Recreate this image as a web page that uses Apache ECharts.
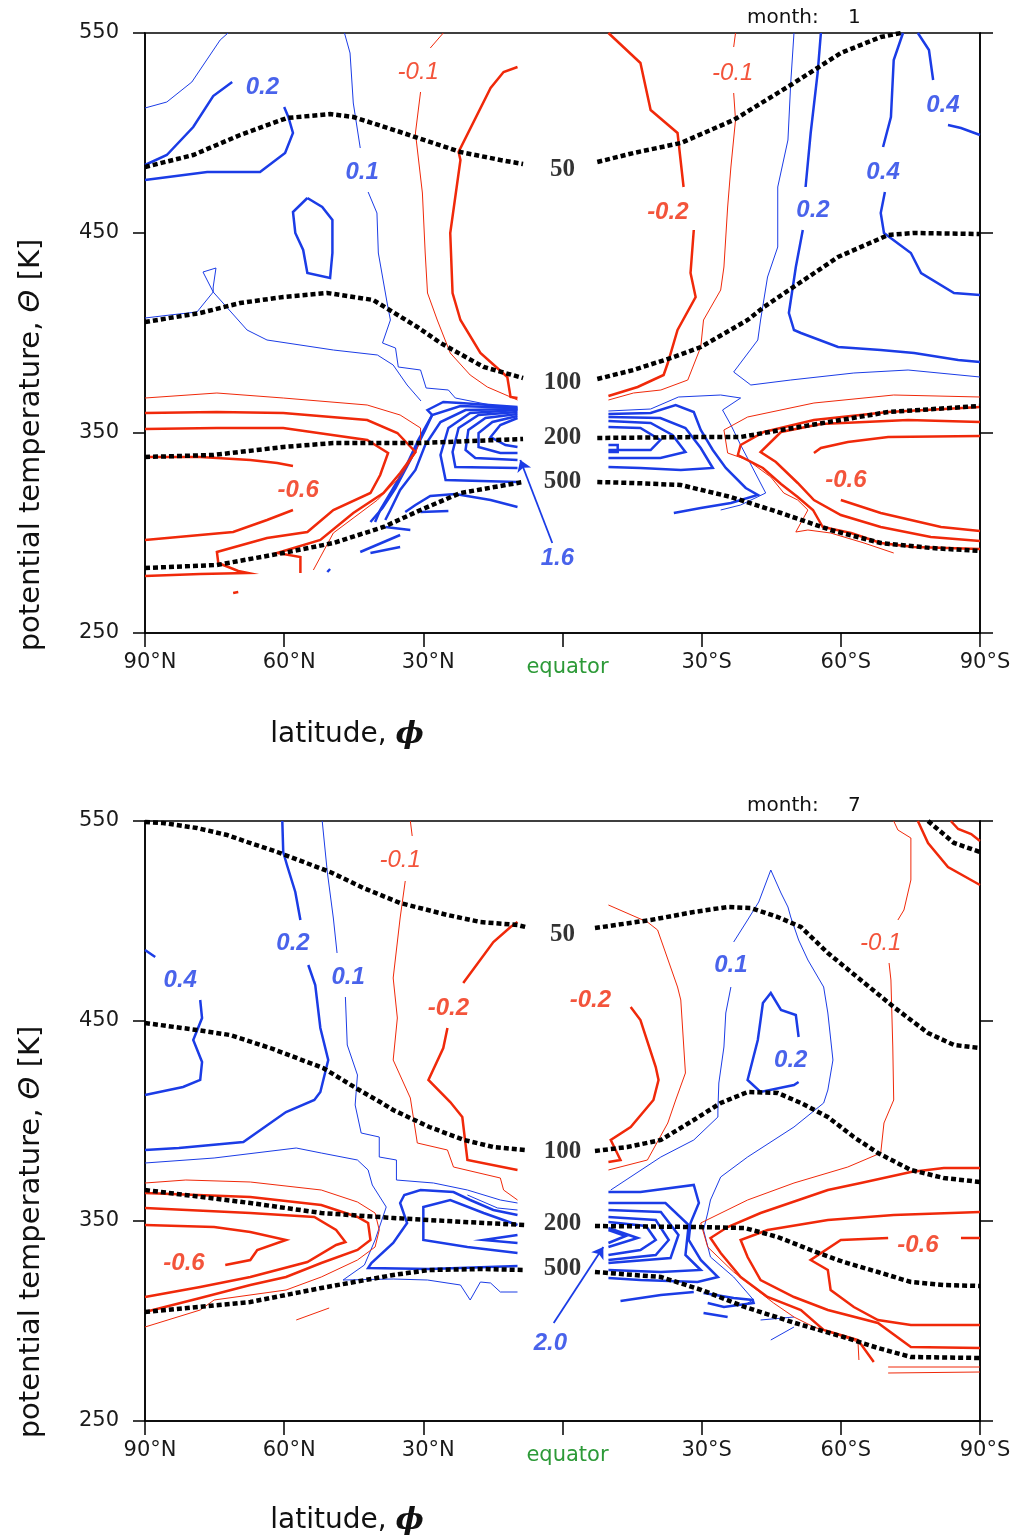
<!DOCTYPE html>
<html><head><meta charset="utf-8">
<script src="https://cdn.jsdelivr.net/npm/echarts@6/dist/echarts.min.js"></script>
<style>html,body{margin:0;padding:0;background:#fff}#c{width:1014px;height:1539px}</style>
</head><body><div id="c"></div>
<script>
// ---------------- axis ticks ----------------
const latTicks = [-90, -60, -30, 0, 30, 60, 90];
const thetaTicks = [250, 350, 450, 550];
const monthLabels = ['1', '7'];

// ---------------- MONTH 1 (top) ----------------
const m1_p50 = [
 [[90,483],[79.6,489],[69.5,499],[59.4,507.5],[50.1,509.5],[45.1,508],[35,500.5],[22,490.5],[13.4,486.5],[8.5,484.5]],
 [[-7.5,485.5],[-15.3,490],[-25.5,495],[-36.9,506.5],[-49.2,524],[-60,540],[-68.6,548],[-73,550]]
];
const m1_p100 = [
 [[90,405.5],[78.1,410],[69.5,415],[60.2,418],[50.7,420],[40.8,416.5],[31.3,403],[26.3,395],[17,383],[8.5,377.5]],
 [[-7.5,377],[-15.3,381.5],[-24,388],[-29.8,393],[-39.9,406.5],[-43.4,413],[-59.4,438],[-70.2,449],[-75.8,450],[-90,449.5]]
];
const m1_p200 = [
 [[90,338],[75.3,339],[60.2,343],[49.4,345],[30.6,345],[8.5,347]],
 [[-7.5,347.5],[-29.8,348],[-38.4,348],[-47.1,351.5],[-60,356.5],[-70.2,360.5],[-90,363.5]]
];
const m1_p500 = [
 [[90,282.5],[74.5,284],[60.2,290],[49.4,295],[38.6,303],[30.6,311.5],[22,320],[8.5,325.5]],
 [[-7.5,325.5],[-15.3,325],[-25.5,324],[-36.3,318],[-47.1,310],[-57.8,301.5],[-68.6,295],[-79.4,292.5],[-90,291]]
];
const m1_blueThin = [
 [[72.1,550],[73.8,546.5],[79.9,525.5],[85.3,515.5],[90,512.5]],
 [[47,550],[45.8,540],[45.1,515],[43.6,492.5]],
 [[41.9,470.5],[40,460],[39.7,440],[37.8,415],[37.1,406.5],[38.8,395],[36,392.5],[35.4,383],[30.6,381.5],[29.4,372.5],[24.6,371.5],[23.1,367.5],[15.5,364],[9.7,361.5]],
 [[90,407.5],[84.6,409],[78.8,410.5],[75.3,420.5],[77.5,430.5],[74.7,432.5],[75.3,423],[75.3,420.5],[68,401.5],[63.7,396.5],[49.4,391.5],[39.9,389],[36.5,384],[33.5,374],[30.5,366]],
 [[-9.9,361],[-19,362],[-25,368],[-34.1,369],[-38.4,367.5],[-34.5,361.5],[-36.3,354],[-38.4,344],[-41,332.5],[-43.8,320],[-38.4,314],[-34.1,311.5]],
 [[-49.9,550],[-49.2,525],[-48.6,496.5],[-46.4,473],[-46.4,443],[-44.2,428],[-42.7,406.5],[-42.1,396.5],[-36.9,380.5],[-40.6,374],[-49.2,376.5],[-62.8,380],[-74.5,381.5],[-90,378]]
];
const m1_blueThick = [
 [[71.2,525.5],[75.3,518.5],[79.6,503],[85.3,489],[90,484]],
 [[90,476.5],[76.6,480.5],[65.2,480.5],[59.8,490],[58.1,500],[59.1,508],[60,513]],
 [[55,467.5],[58.1,460.5],[57.6,450],[55.9,441.5],[55,430],[50.1,427.5],[49.6,440],[49.6,456.5],[51.8,463],[55,467.5]],
 [[9.7,357.5],[13.4,354],[15.5,348],[12.3,344],[9.7,343]],
 [[9.7,358.5],[15.1,355.5],[18.1,350],[18.1,343],[13.4,340],[9.7,340]],
 [[9.7,359.5],[16.6,357.5],[20.3,351.5],[20.9,341.5],[18.8,337.5],[9.7,336.5]],
 [[9.7,360.5],[18.1,359],[22.4,352.5],[23.7,340.5],[23.1,333],[9.7,332.5]],
 [[9.7,361.5],[19.9,360],[24.6,352.5],[26.3,339],[25.2,326.5],[9.7,325.5]],
 [[9.7,362],[20.9,361.5],[26.3,355.5],[29.6,344],[31.7,331.5],[35,321.5],[37.1,311.5],[38.2,306.5]],
 [[9.7,362.5],[22,363.5],[28.1,359],[31.1,346.5],[33.9,332.5],[36.7,321.5],[39.3,311.5],[40.4,305.5]],
 [[9.7,363],[22,365],[25.7,365.5],[29.1,361.5],[28.1,359],[29.6,351.5],[32.8,336.5],[36,322.5],[38.8,312.5],[41.4,305.5]],
 [[9.7,313],[15.5,316.5],[23.1,319.5],[28.5,318.5],[31.7,314],[33.9,310.5]],
 [[30.6,310.5],[24.6,311]],
 [[43.6,290.5],[35,299]],
 [[41.4,290],[35,293]],
 [[38.2,303],[32.8,301.5]],
 [[50.7,280.5],[50.1,282]],
 [[-9.9,359.5],[-19,360],[-24.4,364],[-28.3,360.5],[-29.8,351.5],[-32.4,341.5],[-35.2,332.5],[-39.5,322.5],[-42.1,319],[-36.3,315],[-29.8,312.5],[-24,310]],
 [[-9.9,358],[-21.1,357.5],[-26.5,352.5],[-29.8,342.5],[-32.4,332.5],[-25.5,331.5],[-16.8,332.5],[-9.9,333]],
 [[-9.9,356],[-19,355],[-23.7,349],[-26.5,340.5],[-21.1,337.5],[-9.9,337.5]],
 [[-9.9,353],[-16.8,352.5],[-21.1,346.5],[-19,341.5],[-9.9,341.5]],
 [[-9.9,344],[-11.9,344],[-11.9,340.5],[-9.9,340.5]],
 [[-55.7,550],[-55,530],[-53.5,500],[-52.4,473]],
 [[-51.8,451.5],[-50.3,433],[-48.8,410],[-49.9,401.5],[-51.4,400],[-59.4,393],[-68.6,391.5],[-75.8,390],[-85.3,386.5],[-90,385.5]],
 [[-73.4,550],[-71.4,536.5],[-70.8,508],[-69.1,493]],
 [[-69.5,470.5],[-68.6,460],[-69.3,450],[-75.1,440],[-77.3,430],[-84.4,420],[-90,419]],
 [[-76.6,550],[-79,541.5],[-79.9,526.5]],
 [[-83.1,504],[-85.9,502.5],[-90,499]]
];
const m1_redThin = [
 [[25.7,550],[28.5,542.5]],
 [[30.6,520.5],[31.7,500],[30.2,470],[29.6,440],[29.1,420],[27,406.5],[24.2,390],[19.9,379],[16.2,373],[9.7,366.5]],
 [[-37.3,550],[-36.9,543]],
 [[-36.9,520],[-37.3,506.5],[-36.3,483],[-35.6,463],[-34.8,433],[-34.1,421.5],[-30.4,406.5],[-29.8,393],[-27,376.5],[-21.2,371.5],[-15.3,370],[-9.9,366.5]],
 [[90,367.5],[74.5,370],[60.2,367.5],[42.1,364],[35,359],[30.6,352.5],[30.6,346.5],[31.7,340],[35,328],[39.9,316.5],[49.4,300],[53.7,281.5]],
 [[-90,368],[-71.4,369],[-54.2,365],[-39.9,358],[-34.8,351.5],[-35.6,340],[-39.9,336.5],[-44.9,328],[-47.7,320],[-50.7,316.5],[-52.9,311.5],[-50.3,300.5],[-52.9,301.5],[-57.8,300],[-65,295],[-71.4,290]]
];
const m1_redThick = [
 [[9.7,533],[12.7,530.5],[15.5,522.5],[22.4,490.5],[22,486.5],[24.2,450],[23.7,420],[22,406.5],[17.7,390],[11.9,378],[11.2,368],[9.7,367.5]],
 [[-9.9,550],[-16.8,535],[-19,511.5],[-24.8,500],[-26.1,473]],
 [[-28.3,451.5],[-27.6,430],[-28.7,418],[-24.8,401.5],[-22.7,385],[-21.8,379],[-16.2,373],[-9.9,368.5]],
 [[90,360],[74.5,360.5],[60.2,360],[42.1,356.5],[35.6,350],[31.7,340.5],[35,330],[38.6,320],[45.1,310],[52.2,296.5],[61.5,290],[56.5,288],[56.5,280]],
 [[90,352],[74.5,352.5],[60.2,352.5],[42.1,346.5],[37.6,340],[39.3,329],[41.4,320],[49.4,311.5],[55,300.5],[63.7,297.5],[74.5,290.5],[74.2,285],[69.9,281],[67.8,280],[78.1,279.5],[90,278.5]],
 [[90,338],[78.1,338],[67.3,336.5],[61.5,335],[58.1,333.5]],
 [[90,296.5],[71,300.5],[63.7,306.5],[58.1,311.5]],
 [[71,270],[69.9,270.5]],
 [[-90,363],[-70.2,360.5],[-54.2,356.5],[-43.4,350.5],[-38.4,344],[-37.8,339],[-43.2,332.5],[-47.1,324.5],[-50.7,318],[-54,311.5],[-56.1,303],[-62.2,300],[-68.6,295],[-75.8,293],[-90,292]],
 [[-90,355.5],[-74.5,356.5],[-55.7,354.5],[-47.1,350.5],[-42.7,340.5],[-46,335.5],[-50.7,325],[-54.2,316.5],[-60,309],[-68.6,303],[-79.4,298],[-90,296]],
 [[-90,348.5],[-70.2,348],[-61.5,345.5],[-55.7,342.5],[-54.2,340]],
 [[-60,316.5],[-68.6,310],[-81.6,303],[-90,301]]
];
const m1_lblBlue = [[64.7,523,'0.2'],[43.2,480.5,'0.1'],[-54,461.5,'0.2'],[-69.1,480.5,'0.4'],[-82,514,'0.4'],[1.1,287.5,'1.6']];
const m1_lblRed = [[-22.7,460.5,'-0.2'],[57,321.5,'-0.6'],[-61.1,326.5,'-0.6']];
const m1_lblRedThin = [[31.1,530.5,'-0.1'],[-36.7,530,'-0.1']];
const m1_lblP = [[0,481.5,'50'],[0,375,'100'],[0,347.5,'200'],[0,325.5,'500']];
const m1_arrow = [[2.2,295],[9.1,336.5]];

// ---------------- MONTH 7 (bottom) ----------------
const m7_p50 = [
 [[90,549.5],[86.1,549],[78.8,546.5],[72.3,543],[68,539.5],[61.5,534.5],[50.1,524.5],[42.9,516.5],[35,509],[24.8,503],[17.7,499.5],[9.7,498],[8,497]],
 [[-7,496.5],[-19,500.5],[-28.3,504.5],[-35.6,507],[-40.6,506.5],[-46.4,502],[-51.4,497],[-57.2,484],[-64.3,470.5],[-71.4,457],[-78.8,444],[-84.4,438],[-90,436.5]]
];
const m7_pTop = [
 [[-78.8,550],[-84.4,539],[-90,534.5]]
];
const m7_p100 = [
 [[90,449],[78.8,445.5],[71.7,443],[63,436.5],[51.6,426.5],[44.2,416],[39.3,409.5],[36.5,405.5],[28.7,397],[21.2,390.5],[14.9,387],[8,385.5]],
 [[-7,385],[-14,387],[-21.2,390.5],[-28.3,400.5],[-34.1,409],[-39.9,414.5],[-46.4,414],[-51.4,409],[-57.2,402],[-62.8,392],[-68,384],[-75.1,375.5],[-82.2,371.5],[-90,369.5]]
];
const m7_p200 = [
 [[90,365.5],[67.3,359],[52,354],[36.5,351.5],[21.2,349.5],[8,348]],
 [[-7,347.5],[-28.3,347],[-39.3,346.5],[-46.4,342],[-53.5,335.5],[-60.6,329.5],[-68,324.5],[-75.1,319.5],[-82.2,318],[-90,317.5]]
];
const m7_p500 = [
 [[90,304.5],[67.3,309.5],[52,316.5],[36.5,323],[28.7,325.5],[17.3,326],[8,325.5]],
 [[-7,324.5],[-21.2,322],[-30,315.5],[-39.3,307],[-50.1,299],[-60.6,292],[-68,286.5],[-75.1,282],[-90,281.5]]
];
const m7_blueThin = [
 [[51.8,550],[50.7,524.5],[49.4,501.5],[48.6,484]],
 [[46.8,462],[46.4,438],[44.2,423],[44.7,408],[43.4,394],[39.5,392],[39.5,382],[35.8,380.5],[35.8,370.5],[27.8,369],[20.5,365.5],[13.4,360.5],[9.7,359]],
 [[20.5,363],[14,356.5],[9.7,355.5]],
 [[90,379],[75.1,381.5],[57.4,386.5],[52,384],[44.2,380.5],[41.9,375.5],[41,368],[38,357],[40.4,340.5],[42.7,328],[47.3,320.5],[36.5,321],[29.1,320.5],[22,318],[19.9,310.5],[17.7,319.5],[15.5,319],[13.4,314.5],[9.7,314.5]],
 [[-36.3,467],[-35.2,454],[-34.8,437],[-33.7,419],[-33.5,405.5],[-33.5,402],[-28.3,390.5],[-21.2,382],[-10.4,365.5]],
 [[-36.9,489.5],[-39.9,500.5],[-42.3,509.5],[-44.9,525.5],[-47.1,514],[-48.6,507],[-49.2,502],[-50.9,490.5],[-52.9,480.5],[-56.3,467],[-57.2,454],[-58.3,430.5],[-57.2,415.5],[-56.3,409],[-49.9,397],[-39.9,382],[-34.1,372],[-31.9,360.5],[-31.3,354],[-30.4,345.5],[-31.9,332],[-36.9,322],[-41.2,310.5],[-39.9,309]],
 [[-42.7,300.5],[-49.9,302]],
 [[-44.9,290.5],[-49.9,297]]
];
const m7_blueThick = [
 [[60.4,550],[60.2,534.5],[59.4,528],[57.6,514.5],[56.5,500.5]],
 [[54.8,478],[53.3,468],[52.2,446.5],[50.5,430.5],[52.2,414.5],[53.5,410.5],[59.6,404.5],[68.8,389.5],[82.7,386.5],[90,385.5]],
 [[90,485.5],[87.8,482]],
 [[78.1,460.5],[77.7,451.5],[79.6,440.5],[77.7,429.5],[78.1,420.5],[81.8,417],[90,413]],
 [[9.7,353],[14.9,355.5],[19.9,360.5],[23.5,364.5],[30.6,365.5],[34.1,363],[35,359],[33.5,349],[36.5,339],[41.2,329],[41.9,326.5],[28.7,326],[9.7,327.5]],
 [[9.7,348],[17,354],[24.2,360.5],[30,357],[30,340.5],[20.5,337],[9.7,334]],
 [[9.7,343],[17,340.5],[9.7,339]],
 [[-50.9,442],[-50.3,453],[-47.1,455.5],[-44.9,464],[-43.2,459],[-42.7,450.5],[-42.1,440.5],[-41,430.5],[-39.9,420.5],[-42.7,414.5],[-49.9,418],[-50.9,419.5]],
 [[-9.9,345.5],[-13.6,342.5],[-9.9,339]],
 [[-9.9,346.5],[-16.2,341.5],[-9.9,337]],
 [[-9.9,349.5],[-18,347.5],[-20.1,340.5],[-16.8,335.5],[-9.9,333]],
 [[-9.9,352],[-20.1,350.5],[-22.9,340.5],[-20.1,333],[-9.9,330.5]],
 [[-9.9,355.5],[-21.2,354.5],[-25,343],[-23.3,331.5],[-9.9,329]],
 [[-9.9,359],[-22.2,359],[-27.2,348],[-26.5,333],[-29.8,325.5],[-21.2,324.5],[-9.9,325.5]],
 [[-9.9,364.5],[-16.8,364.5],[-28.3,368],[-29.4,359],[-27.6,349],[-27.2,340.5],[-29.8,330.5],[-33.5,322],[-29.1,319.5],[-16.8,320.5],[-9.9,321.5]],
 [[-12.5,310],[-21.2,313],[-28.3,314.5]],
 [[-30.4,314],[-36.9,311.5],[-41,310.5],[-41.2,309],[-34.8,307],[-31.3,309]],
 [[-30.4,304],[-35.6,302]]
];
const m7_redThin = [
 [[32.8,550],[32.4,542.5]],
 [[33.9,520],[35,501.5],[36.5,471.5],[35.6,451.5],[36.5,430.5],[32.8,411.5],[31.3,389],[24.8,385.5],[23.5,377],[13.4,371.5],[12.7,365.5],[9.7,360.5]],
 [[90,369],[81.2,370.5],[67.3,369.5],[52,365.5],[44.2,359.5],[40.4,354],[39.5,345.5],[40.4,337],[44.2,330.5],[52,322],[59.6,315.5],[75.1,310.5],[78.1,305.5],[90,297]],
 [[57.4,300.5],[50.3,306.5]],
 [[-9.9,508],[-18.3,499.5],[-20.5,495.5],[-24.8,467],[-25.5,460.5],[-26.5,424],[-24.4,410.5],[-22.7,399],[-18.3,380.5],[-9.9,375.5]],
 [[-71.4,550],[-72.3,545.5],[-75.1,541.5],[-75.1,520.5],[-73.6,505.5],[-72.3,500.5]],
 [[-70.4,479],[-70.8,470.5],[-71.2,437],[-71.4,410.5],[-69.3,399],[-68.6,384],[-61.5,377],[-49.9,369],[-39.9,360.5],[-29.8,349],[-31.3,337],[-36.9,324.5],[-45.5,309],[-49.9,302],[-54.2,297],[-63.7,289.5],[-63.9,280.5]],
 [[-70.2,277],[-90,277]],
 [[-70.2,274],[-90,274.5]]
];
const m7_redThick = [
 [[9.7,499.5],[11.2,497],[14.9,489.5],[21.4,469]],
 [[24.8,446.5],[25.7,436.5],[28.9,420.5],[24.2,409.5],[21.6,402],[20.5,380.5],[9.7,375.5]],
 [[90,364],[67.3,362],[52,358],[44.2,352],[41.9,349],[41.4,340.5],[44.2,335.5],[52,329],[59.6,322],[67.3,318],[78.1,311.5],[90,304.5]],
 [[90,356.5],[67.3,354],[53.5,352],[48.8,345.5],[46.8,339.5],[48.8,338],[55,329.5],[67.3,322],[78.1,317],[90,312]],
 [[90,348],[75.1,347],[67.3,344.5],[59.6,340.5],[65.8,335.5],[67.3,330.5],[72.7,328]],
 [[-14.7,457],[-16.8,450.5],[-20.1,427],[-20.7,420.5],[-19.6,410.5],[-14.7,397],[-10.4,390.5],[-12.5,380.5],[-9.9,379.5]],
 [[-90,376.5],[-82.2,376.5],[-75.1,374.5],[-64.3,369],[-57.2,365.5],[-42.7,354],[-35.6,347],[-31.9,341.5],[-34.1,334],[-38.4,322],[-44.2,312],[-51.4,305.5],[-56.3,295.5],[-63.7,290.5],[-67.1,279.5]],
 [[-90,354.5],[-71.4,353],[-57.2,350.5],[-44.2,345.5],[-38.4,340.5],[-39.9,332],[-42.7,320.5],[-49.9,312],[-57.2,305.5],[-68,299],[-75.1,287],[-90,286.5]],
 [[-90,341.5],[-85.9,341.5]],
 [[-70.2,341.5],[-60,340.5],[-53.5,330.5],[-57.2,325.5],[-57.8,315.5],[-62.8,307],[-68,300.5],[-75.1,298],[-90,298]],
 [[-76.6,550],[-78.8,539],[-83.1,527],[-90,518]],
 [[-83.7,550],[-85.3,546],[-88.1,543.5],[-90,540]]
];
const m7_lblBlue = [[82.4,470.5,'0.4'],[58.1,489,'0.2'],[46.2,472,'0.1'],[-36.3,478,'0.1'],[-49.2,430.5,'0.2'],[2.6,289,'2.0']];
const m7_lblRed = [[24.6,456.5,'-0.2'],[-6,460.5,'-0.2'],[81.6,329,'-0.6'],[-76.6,338,'-0.6']];
const m7_lblRedThin = [[35,530.5,'-0.1'],[-68.6,489,'-0.1']];
const m7_lblP = [[0,493,'50'],[0,384.5,'100'],[0,348.5,'200'],[0,326,'500']];
const m7_arrow = [[1.9,299],[-8.8,337]];

// ---------------- styles ----------------
const BLUE = '#1b3ce6', RED = '#f0290a', GREEN = '#2d9a38';
const TICKFONT = 'DejaVu Sans';

function polys(list, gi, color, width, type, z) {
  return list.map(p => ({
    type: 'line', xAxisIndex: gi, yAxisIndex: gi * 2, data: p,
    symbol: 'none', showSymbol: false, silent: true, animation: false, z: z,
    lineStyle: { color: color, width: width, type: type, cap: 'butt', join: 'miter' }
  }));
}
function labels(list, gi, color, font, size, weight, style) {
  return {
    type: 'scatter', xAxisIndex: gi, yAxisIndex: gi * 2, symbolSize: 0, silent: true, z: 6,
    itemStyle: { color: 'transparent' },
    data: list.map(d => ({ value: [d[0], d[1]], label: { formatter: d[2] } })),
    label: { show: true, position: 'inside', color: color, fontFamily: font, fontSize: size, fontWeight: weight, fontStyle: style }
  };
}
function arrow(coords, gi) {
  return {
    type: 'lines', coordinateSystem: 'cartesian2d', xAxisIndex: gi, yAxisIndex: gi * 2, silent: true, z: 6,
    symbol: ['none', 'arrow'], symbolSize: [0, 11],
    lineStyle: { color: BLUE, width: 1.8, opacity: 1, curveness: 0 },
    data: [{ coords: coords }]
  };
}
function panel(gi, p50, pExtra, p100, p200, p500, bThin, bThick, rThin, rThick, lb, lr, lrt, lp, arr) {
  const dot = [5, 3];
  return [].concat(
    polys(bThin, gi, BLUE, 1, 'solid', 2),
    polys(bThick, gi, BLUE, 2.5, 'solid', 2),
    polys(rThin, gi, RED, 1, 'solid', 2),
    polys(rThick, gi, RED, 2.5, 'solid', 2),
    polys([].concat(p50, pExtra, p100, p200, p500), gi, '#000', 4.5, dot, 4),
    [labels(lb, gi, BLUE, 'Liberation Sans', 24, 'bold', 'italic'),
     labels(lr, gi, RED, 'Liberation Sans', 24, 'bold', 'italic'),
     labels(lrt, gi, RED, 'Liberation Sans', 24, 'normal', 'italic'),
     labels(lp, gi, '#000', 'Liberation Serif', 25, 'bold', 'normal'),
     arrow(arr, gi)]
  );
}

const grids = [
  { left: 145, top: 33, width: 835, height: 600, show: true, borderColor: '#000', borderWidth: 1.5, backgroundColor: 'transparent' },
  { left: 145, top: 821, width: 835, height: 600, show: true, borderColor: '#000', borderWidth: 1.5, backgroundColor: 'transparent' }
];
function xAx(gi) {
  return {
    gridIndex: gi, type: 'value', min: latTicks[0], max: latTicks[latTicks.length - 1], interval: 30, inverse: true,
    axisLine: { show: true, onZero: false, lineStyle: { color: '#000', width: 1.5 } },
    axisTick: { show: true, length: 14, lineStyle: { color: '#000', width: 1.5 } },
    splitLine: { show: false }, showMinLabel: true, showMaxLabel: true,
    axisLabel: {
      margin: 19, fontSize: 21, fontFamily: TICKFONT, color: '#1a1a1a', padding: [0, 0, 0, 10],
      formatter: v => v === 0 ? '{eq|equator}' : (v > 0 ? v + '°N' : (-v) + '°S'),
      rich: { eq: { color: GREEN, fontSize: 21, fontFamily: TICKFONT, padding: [5, 0, 0, 0] } }
    }
  };
}
function yAx(gi, pos) {
  return {
    gridIndex: gi, type: 'value', position: pos, min: thetaTicks[0], max: thetaTicks[thetaTicks.length - 1], interval: 100,
    axisLine: { show: true, onZero: false, lineStyle: { color: '#000', width: 1.5 } },
    axisTick: { show: true, length: pos === 'left' ? 12 : 13, lineStyle: { color: '#000', width: 1.5 } },
    splitLine: { show: false },
    axisLabel: { show: pos === 'left', margin: 26, fontSize: 21, fontFamily: TICKFONT, color: '#1a1a1a' }
  };
}

function yName(y) {
  return { type: 'text', x: 31, y: y, rotation: Math.PI / 2, silent: true,
    style: { text: '{a|potential temperature, }{b|Θ}{a| [K]}', align: 'center', verticalAlign: 'middle',
      rich: { a: { fontFamily: TICKFONT, fontSize: 29, fill: '#111' }, b: { fontFamily: TICKFONT, fontSize: 29, fontStyle: 'italic', fill: '#111' } } } };
}
function xName(y) {
  return { type: 'text', x: 347, y: y, silent: true,
    style: { text: '{a|latitude, }{b|ϕ}', align: 'center', verticalAlign: 'middle',
      rich: { a: { fontFamily: TICKFONT, fontSize: 28, fill: '#111' }, b: { fontFamily: 'DejaVu Serif', fontSize: 30, fontStyle: 'italic', fontWeight: 'bold', fill: '#111' } } } };
}
function month(y, m) {
  return [
    { type: 'text', x: 747, y: y, silent: true, style: { text: 'month:', font: '20px "DejaVu Sans"', fill: '#111', align: 'left', verticalAlign: 'middle' } },
    { type: 'text', x: 848, y: y, silent: true, style: { text: m, font: '20px "DejaVu Sans"', fill: '#111', align: 'left', verticalAlign: 'middle' } }
  ];
}

const option = {
  animation: false,
  backgroundColor: '#fff',
  grid: grids,
  xAxis: [xAx(0), xAx(1)],
  yAxis: [yAx(0, 'left'), yAx(0, 'right'), yAx(1, 'left'), yAx(1, 'right')],
  series: [].concat(
    panel(0, m1_p50, [], m1_p100, m1_p200, m1_p500, m1_blueThin, m1_blueThick, m1_redThin, m1_redThick, m1_lblBlue, m1_lblRed, m1_lblRedThin, m1_lblP, m1_arrow),
    panel(1, m7_p50, m7_pTop, m7_p100, m7_p200, m7_p500, m7_blueThin, m7_blueThick, m7_redThin, m7_redThick, m7_lblBlue, m7_lblRed, m7_lblRedThin, m7_lblP, m7_arrow)
  ),
  graphic: [yName(445), yName(1232), xName(735), xName(1521)].concat(month(18, monthLabels[0]), month(806, monthLabels[1]))
};
const chart = echarts.init(document.getElementById('c'), null, { renderer: 'canvas' });
chart.setOption(option);
</script>
</body></html>
